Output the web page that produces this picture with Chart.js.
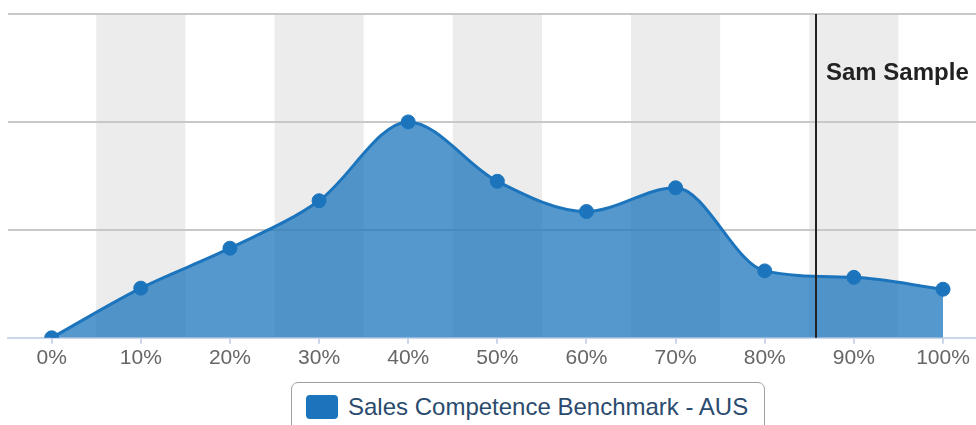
<!DOCTYPE html>
<html>
<head>
<meta charset="utf-8">
<script src="https://cdn.jsdelivr.net/npm/chart.js@4"></script>
<style>
    html, body { margin: 0; padding: 0; background: #fff; }
    #wrap { position: relative; width: 976px; height: 425px; overflow: hidden; }
    #legendBox {
        position: absolute; left: 291px; top: 382px; width: 472px; height: 60px;
        border: 1.5px solid #a0a0a0; border-radius: 7px; background: #fff;
        font-family: "Liberation Sans", Arial, sans-serif;
    }
    #legendBox .swatch {
        position: absolute; left: 14px; top: 12px; width: 32px; height: 24px;
        border-radius: 4px; background: rgb(28, 117, 188);
    }
    #legendBox .label {
        position: absolute; left: 56px; top: 10px; font-size: 24px; line-height: 28px;
        color: #2a4b6e; white-space: nowrap;
    }
</style>
</head>
<body>
<div id="wrap">
    <canvas id="chart" width="976" height="425"></canvas>
    <div id="legendBox"><div class="swatch"></div><div class="label" id="legendLabel"></div></div>
</div>
<script>
// Chart data
const seriesName = 'Sales Competence Benchmark - AUS';
const xValues = [0, 10, 20, 30, 40, 50, 60, 70, 80, 90, 100];
const tickLabels = ['0%', '10%', '20%', '30%', '40%', '50%', '60%', '70%', '80%', '90%', '100%'];
const benchmark = [0, 4.6, 8.3, 12.7, 20, 14.5, 11.7, 13.9, 6.2, 5.6, 4.5];
const bandRanges = [[5, 15], [25, 35], [45, 55], [65, 75], [85, 95]];
const markerName = 'Sam Sample';
const markerValue = 85.8;

const lineColor = 'rgb(28, 117, 188)';

// Alternating grey plot bands, drawn under the grid
const bandsPlugin = {
    id: 'bands',
    beforeDraw(chart) {
        const { ctx, chartArea, scales } = chart;
        ctx.save();
        ctx.fillStyle = '#ececec';
        bandRanges.forEach(([from, to]) => {
            const x1 = scales.x.getPixelForValue(from);
            const x2 = scales.x.getPixelForValue(to);
            ctx.fillRect(x1, chartArea.top, x2 - x1, chartArea.bottom - chartArea.top);
        });
        ctx.restore();
    }
};

// Vertical marker line with its label
const markerPlugin = {
    id: 'marker',
    afterDatasetsDraw(chart) {
        const { ctx, chartArea, scales } = chart;
        const x = Math.round(scales.x.getPixelForValue(markerValue));
        ctx.save();
        ctx.strokeStyle = '#222';
        ctx.lineWidth = 2;
        ctx.beginPath();
        ctx.moveTo(x, chartArea.top);
        ctx.lineTo(x, chartArea.bottom);
        ctx.stroke();
        ctx.fillStyle = '#222';
        ctx.font = 'bold 24px "Liberation Sans", Arial, sans-serif';
        ctx.textBaseline = 'middle';
        ctx.fillText(markerName, x + 10, 73);
        ctx.restore();
    }
};

document.getElementById('legendLabel').textContent = seriesName;

const ctx = document.getElementById('chart').getContext('2d');
new Chart(ctx, {
    type: 'line',
    data: {
        datasets: [{
            label: seriesName,
            data: xValues.map((x, i) => ({ x: x, y: benchmark[i] })),
            borderColor: lineColor,
            backgroundColor: 'rgba(28, 117, 188, 0.75)',
            borderWidth: 3,
            fill: 'origin',
            cubicInterpolationMode: 'monotone',
            pointRadius: 7,
            pointBorderWidth: 1,
            pointBackgroundColor: lineColor,
            pointBorderColor: lineColor
        }]
    },
    options: {
        responsive: false,
        animation: false,
        layout: { autoPadding: false, padding: { left: 8, right: 0, top: 14, bottom: 52 } },
        plugins: {
            legend: { display: false },
            tooltip: { enabled: false }
        },
        scales: {
            x: {
                type: 'linear',
                min: -4.9,
                max: 103.7,
                afterBuildTicks: (scale) => {
                    scale.ticks = xValues.map(v => ({ value: v }));
                },
                afterFit: (scale) => {
                    // let the last label overflow, like the original
                    scale.paddingLeft = 0;
                    scale.paddingRight = 0;
                },
                ticks: {
                    callback: (value) => tickLabels[xValues.indexOf(value)],
                    color: '#666',
                    padding: 2,
                    maxRotation: 0,
                    autoSkip: false,
                    font: { family: '"Liberation Sans", Arial, sans-serif', size: 21 }
                },
                grid: {
                    drawOnChartArea: false,
                    drawTicks: true,
                    tickLength: 6,
                    color: '#ccd6eb',
                    lineWidth: 2
                },
                border: { color: '#ccd6eb', width: 2 }
            },
            y: {
                min: 0,
                max: 30,
                afterFit: (scale) => { scale.width = 0; },
                ticks: { display: false, stepSize: 10 },
                grid: {
                    drawTicks: false,
                    color: (c) => c.tick && c.tick.value === 0 ? 'rgba(0,0,0,0)' : '#c8c8c8',
                    lineWidth: 2
                },
                border: { display: false }
            }
        }
    },
    plugins: [bandsPlugin, markerPlugin]
});
</script>
</body>
</html>
